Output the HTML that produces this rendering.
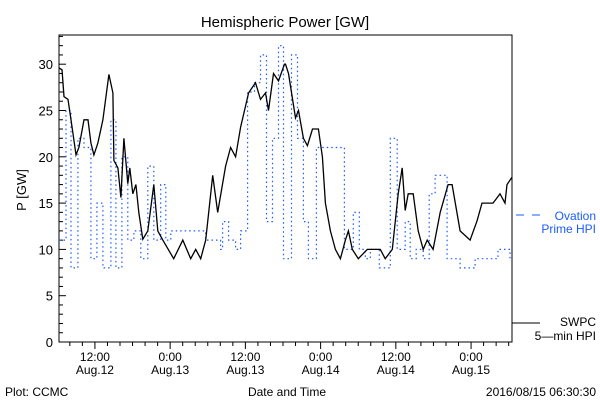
<!DOCTYPE html>
<html><head><meta charset="utf-8"><style>
body{margin:0;background:#fff;}
svg{display:block;font-family:"Liberation Sans",sans-serif;}
</style></head><body>
<svg id="chart" width="600" height="400">
<text x="285" y="27" font-size="15" text-anchor="middle">Hemispheric Power [GW]</text>
<text transform="translate(26,190) rotate(-90)" font-size="13" text-anchor="middle">P [GW]</text>
<text x="5" y="396" font-size="12">Plot: CCMC</text>
<text x="287" y="396" font-size="12" text-anchor="middle">Date and Time</text>
<text x="596" y="396" font-size="12" text-anchor="end">2016/08/15 06:30:30</text>
<g>
<line x1="516" y1="215" x2="540" y2="215" stroke="#1a5cff" stroke-width="1" stroke-dasharray="8,8"/>
<text x="596" y="220" font-size="12" fill="#1a5cff" text-anchor="end">Ovation</text>
<text x="596" y="233" font-size="12" fill="#1a5cff" text-anchor="end">Prime HPI</text>
</g>
<g>
<line x1="512" y1="323" x2="540" y2="323" stroke="#000" stroke-width="1"/>
<text x="596" y="326" font-size="12" text-anchor="end">SWPC</text>
<text x="596" y="340" font-size="12" text-anchor="end">5—min HPI</text>
</g>
<g id="axes"></g>
<g id="series"></g>
</svg>
<script>
const yTicks=[0,5,10,15,20,25,30];
const xTickHours=[12,24,36,48,60,72];
const xTickTimes=["12:00","0:00","12:00","0:00","12:00","0:00"];
const xTickDates=["Aug.12","Aug.13","Aug.13","Aug.14","Aug.14","Aug.15"];
const swpcHours=[6.27,6.75,7.07,7.70,8.18,8.98,9.45,10.25,10.89,11.36,11.84,12.48,13.27,14.23,14.86,15.02,15.66,16.14,16.62,17.25,17.57,18.05,18.53,19.00,19.64,20.44,21.39,22.03,22.82,24.57,26.01,27.28,28.07,28.87,29.67,30.78,31.58,32.85,33.64,34.44,35.24,36.51,37.62,38.42,39.21,39.69,40.49,41.28,42.24,42.40,42.88,43.99,44.47,45.26,45.90,46.70,47.65,48.29,48.76,49.56,50.36,51.15,51.95,52.43,53.06,54.02,55.45,57.52,58.31,59.43,60.38,61.02,61.50,61.97,62.77,63.57,64.36,65.00,65.95,67.07,68.34,68.98,70.25,71.84,72.96,73.75,75.50,76.62,77.41,77.73,78.53];
const swpcValues=[29.6,29.4,26.5,26.2,24,20.2,21,24,24,21.5,20.2,21.5,24,28.9,26.9,19.6,18.8,15.6,22,17.1,18.8,16,17,14,11.1,12,17,12,11,9,11,9,10,9,11,18,14,19,21,20,23.2,26.9,28,26.2,26.9,25,29,28.2,30,30,29,24.2,25,22,21.2,23,23,20,15,12,10,9,11,12,10,9,10,10,9,10,16,18.8,14.2,16,16,12,10,11,10,14,17,17,12,11,13.1,15,15,16,15,17,17.8];
const ovationHours=[6.27,7.38,8.18,9.29,10.25,11.36,12.32,13.27,14.55,15.34,16.30,17.25,18.21,19.32,20.44,21.39,22.50,23.30,24.10,28.39,29.67,32.05,32.37,33.33,34.44,35.24,36.35,37.46,38.42,39.37,40.33,41.28,42.08,43.35,44.31,45.26,46.06,47.33,51.79,53.22,54.18,55.13,55.93,57.36,59.11,60.22,61.50,62.29,63.25,64.36,65.32,66.27,68.18,70.25,72.64,76.30,78.21];
const ovationValues=[11,25,8,22,21,9,15,8,24,8,20,11,12,9,19,11,17,11,12,12,11,10,13,11,10,12,27,28,31,13,22,32,9,31,22,13,9,21,10,14,10,9,10,8,22,10,13,9,10,9,16,18,9,8,9,10,9];
const endHour=78.53;
const L=59,R=512,T=35,B=342,H0=6.27;
const xs=h=>L+(h-H0)*(R-L)/(endHour-H0);
const ys=v=>B-v*9.26;
const NS="http://www.w3.org/2000/svg";
function mk(tag,attrs,parent){const e=document.createElementNS(NS,tag);for(const k in attrs)e.setAttribute(k,attrs[k]);parent.appendChild(e);return e;}
const ax=document.getElementById('axes');
const frame=mk('rect',{x:L,y:T,width:R-L,height:B-T,fill:'none',stroke:'#000','stroke-width':1},ax);


for(let v=0;v<=33;v++){
  const major=v%5===0;
  mk('line',{x1:L,x2:L+(major?7:4),y1:ys(v),y2:ys(v),stroke:'#000'},ax);
}
yTicks.forEach(v=>{
  const t=mk('text',{x:L-6,y:ys(v)+5,'font-size':13,'text-anchor':'end'},ax);
  t.textContent=v;
  
  
});
for(let h=8;h<endHour;h+=2){
  const major=h%12===0;
  mk('line',{x1:xs(h),x2:xs(h),y1:B,y2:B+(major?7:4),stroke:'#000'},ax);
}
xTickHours.forEach((h,i)=>{
  const t=mk('text',{x:xs(h),y:361,'font-size':12,'text-anchor':'middle'},ax);
  t.textContent=xTickTimes[i];
  
  
  const d=mk('text',{x:xs(h),y:374,'font-size':12,'text-anchor':'middle'},ax);
  d.textContent=xTickDates[i];
  
  
});
const sg=document.getElementById('series');
let p='';
ovationHours.forEach((h,i)=>{
  const nx=i+1<ovationHours.length?ovationHours[i+1]:endHour;
  p+=(i===0?'M':'L')+xs(h).toFixed(1)+','+ys(ovationValues[i]).toFixed(1)+'L'+xs(nx).toFixed(1)+','+ys(ovationValues[i]).toFixed(1);
});
const ov=mk('path',{d:p,fill:'none',stroke:'#1a5cff','stroke-width':1.2,'stroke-dasharray':'1.5,3'},sg);


const sw=mk('polyline',{points:swpcHours.map((h,i)=>xs(h).toFixed(1)+','+ys(swpcValues[i]).toFixed(1)).join(' '),fill:'none',stroke:'#000','stroke-width':1.3},sg);


</script>
</body></html>
